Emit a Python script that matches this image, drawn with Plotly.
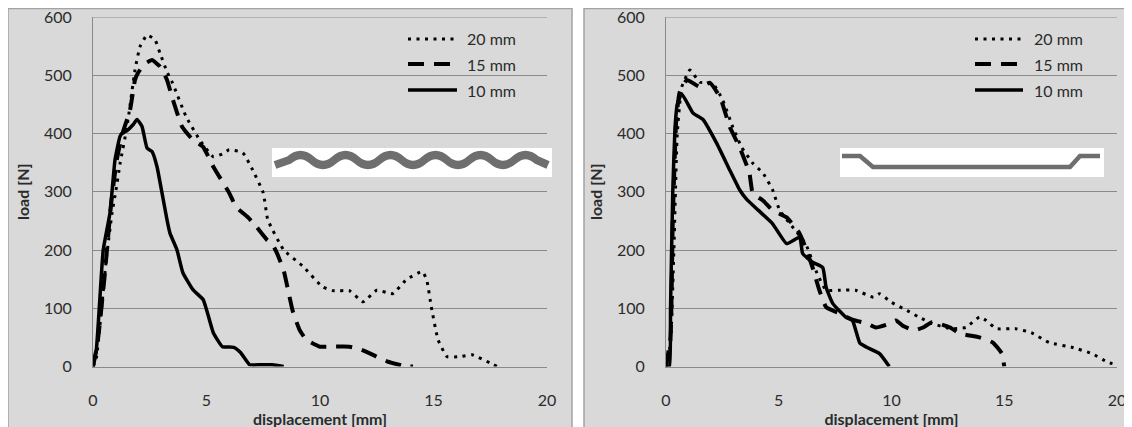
import plotly.graph_objects as go

W, H = 1132, 427
OFF = 8  # the page body adds an 8px margin; place everything relative to it

# ---------------- data ----------------
x_ticks = [0, 5, 10, 15, 20]
y_ticks = [0, 100, 200, 300, 400, 500, 600]
series_names = ["20 mm", "15 mm", "10 mm"]

# left chart (wavy profile)
L20_x = [0, 0.15, 0.3, 0.6, 0.84, 1.0, 1.2, 1.5, 1.85, 2.07, 2.38, 2.73, 2.95, 3.26, 3.5, 4.1, 4.7, 5.3, 5.7, 6.0,
         6.6, 7.0, 7.5, 7.7, 8.4, 9.25, 10.1, 10.6, 11.3, 11.9, 12.5, 13.2, 13.8, 14.5, 14.7, 14.9, 15.2, 15.6, 16.2,
         16.7, 17.5, 17.8]
L20_y = [0, 15, 68, 189, 264, 300, 350, 412, 509, 549, 569, 561, 538, 506, 487, 429, 389, 360, 365, 372,
         367, 340, 298, 252, 200, 172, 137, 130, 130, 111, 131, 125, 149, 163, 149, 103, 46, 17, 17,
         20, 6, 0]

L15_x = [0, 0.2, 0.5, 0.8, 1.05, 1.3, 1.63, 1.85, 1.98, 2.3, 2.6, 2.95, 3.26, 3.52, 3.92, 4.4, 4.85, 5.3, 6.0, 6.3,
         6.8, 7.05, 7.65, 7.9, 8.1, 8.4, 8.6, 8.8, 9.1, 9.4, 10.0, 10.4, 11.3, 11.8, 12.5, 12.95, 13.8, 14.1]
L15_y = [0, 40, 150, 280, 355, 400, 440, 492, 504, 520, 526, 515, 492, 458, 412, 389, 377, 343, 298, 274,
         257, 247, 218, 210, 195, 165, 130, 95, 63, 46, 34, 34, 34, 29, 17, 9, 0, 0]

L10_x = [0, 0.15, 0.3, 0.45, 0.75, 0.97, 1.19, 1.3, 1.5, 1.76, 1.94, 2.16, 2.38, 2.6, 2.82, 3.04, 3.26, 3.39, 3.7,
         3.96, 4.4, 4.85, 5.0, 5.3, 5.7, 6.2, 6.5, 6.9, 7.4, 7.9, 8.4]
L10_y = [0, 30, 115, 200, 264, 355, 395, 401, 405, 415, 424, 412, 375, 369, 343, 298, 252, 229, 200,
         161, 132, 115, 98, 58, 34, 33, 24, 3, 3, 3, 0]

# right chart (flat profile)
R20_x = [0, 0.2, 0.35, 0.5, 0.7, 1.06, 1.5, 2.08, 2.52, 2.96, 3.36, 3.85, 4.3, 4.73, 5.04, 5.5, 6.2, 6.7, 7.1, 7.7,
         8.4, 9.2, 9.47, 10.0, 10.7, 11.2, 11.8, 12.6, 13.3, 13.9, 14.2, 14.65, 15.5, 16.2, 17.0, 18.0, 18.9, 19.6,
         19.8]
R20_y = [0, 40, 200, 400, 480, 509, 488, 486, 457, 411, 376, 349, 332, 303, 268, 245, 210, 160, 131, 131,
         131, 119, 125, 110, 96, 85, 74, 65, 67, 85, 79, 65, 65, 58, 41, 33, 22, 7,
         5]

R15_x = [0, 0.2, 0.3, 0.45, 0.6, 0.93, 1.5, 1.95, 2.4, 2.83, 3.27, 3.7, 3.85, 4.3, 4.73, 5.35, 5.93, 6.24, 6.5, 6.8,
         7.1, 7.7, 8.3, 8.9, 9.3, 9.8, 10.2, 10.5, 11.0, 11.4, 11.8, 12.6, 13.0, 13.9, 14.5, 14.9, 15.0]
R15_y = [0, 50, 250, 420, 470, 492, 480, 487, 462, 411, 376, 332, 297, 285, 268, 256, 228, 199, 170, 131,
         102, 91, 80, 74, 67, 72, 79, 70, 62, 67, 76, 67, 57, 50, 41, 22, 0]

R10_x = [0, 0.15, 0.2, 0.3, 0.4, 0.5, 0.7, 1.2, 1.64, 2.25, 2.83, 3.27, 3.58, 4.1, 4.73, 5.35, 5.93, 6.06, 6.5,
         6.95, 7.1, 7.4, 8.0, 8.27, 8.6, 8.9, 9.47, 9.9]
R10_y = [0, 0, 100, 300, 410, 450, 468, 435, 424, 383, 337, 303, 287, 268, 245, 211, 222, 194, 179,
         170, 136, 108, 84, 79, 40, 33, 22, 0]

x_title = "displacement [mm]"
y_title = "load [N]"

# ---------------- styling ----------------
FONT = "Lato"
BG = "#d9d9d9"
GRID = "#8a8a8a"
BORDER = "#a3a3a3"
TXT = "#2b2b2b"
STYLES = {
    "20 mm": dict(color="black", width=3, dash="3px,5.5px"),
    "15 mm": dict(color="black", width=4, dash="16px,10px"),
    "10 mm": dict(color="black", width=3.5),
}


def px(x):
    return (x - OFF) / W


def py(y):
    return 1 - (y - OFF) / H


fig = go.Figure()

panels = [
    ("x", "y", [(L20_x, L20_y), (L15_x, L15_y), (L10_x, L10_y)]),
    ("x2", "y2", [(R20_x, R20_y), (R15_x, R15_y), (R10_x, R10_y)]),
]
for xa, ya, data in panels:
    for name, (xs, ys) in zip(series_names, data):
        fig.add_trace(go.Scatter(
            x=xs, y=ys, mode="lines", name=name, xaxis=xa, yaxis=ya,
            line=dict(shape="spline", smoothing=0.4, **STYLES[name]),
            showlegend=False, hoverinfo="x+y+name",
        ))

ydom = [py(366.5), py(17)]
axis_common = dict(
    showgrid=True, gridcolor=GRID, gridwidth=1,
    showline=True, linecolor=GRID, linewidth=1,
    zeroline=False, ticks="", automargin=False, ticklabeloverflow="allow",
    tickfont=dict(family=FONT, size=16, color=TXT),
)
x_common = dict(axis_common, range=[0, 20], tickvals=x_ticks, showgrid=False,
                ticklabelstandoff=19,
                title=dict(text=x_title, font=dict(family=FONT, size=16, color=TXT, weight="bold"), standoff=0))
y_common = dict(axis_common, range=[0, 600], tickvals=y_ticks, ticklabelstandoff=17,
                title=dict(text=y_title, font=dict(family=FONT, size=16, color=TXT, weight="bold"), standoff=10))

fig.update_layout(
    width=W, height=H,
    margin=dict(l=0, r=0, t=0, b=0, autoexpand=False),
    paper_bgcolor="white", plot_bgcolor=BG,
    showlegend=False,
    xaxis=dict(x_common, domain=[px(93), px(547)], anchor="y"),
    yaxis=dict(y_common, domain=ydom, anchor="x"),
    xaxis2=dict(x_common, domain=[px(666), px(1117)], anchor="y2"),
    yaxis2=dict(y_common, domain=ydom, anchor="x2"),
)

shapes = []
annotations = []
# chart frames
for x0, x1 in [(8, 572), (584, 1145)]:
    shapes.append(dict(type="rect", xref="paper", yref="paper", layer="below",
                       x0=px(x0), x1=px(x1), y0=py(440), y1=py(8.5),
                       fillcolor=BG, line=dict(color=BORDER, width=1.5)))

# top gridline at the axis maximum (plotly may skip the grid line on the plot edge)
for xr, yr in [("x domain", "y"), ("x2 domain", "y2")]:
    shapes.append(dict(type="line", xref=xr, yref=yr, layer="below",
                       x0=0, x1=1, y0=y_ticks[-1], y1=y_ticks[-1],
                       line=dict(color=GRID, width=1)))

# legends
rows = [39, 64, 90]
for lx0, lx1, tx in [(408, 457, 465), (975, 1023, 1032)]:
    for name, ry in zip(series_names, rows):
        st = STYLES[name]
        shapes.append(dict(type="line", xref="paper", yref="paper", layer="above",
                           x0=px(lx0), x1=px(lx1), y0=py(ry), y1=py(ry),
                           line=dict(color="black", width=st["width"], dash=st.get("dash", "solid"))))
        annotations.append(dict(xref="paper", yref="paper", x=px(tx), y=py(ry), text=name,
                                showarrow=False, xanchor="left", yanchor="middle",
                                font=dict(family=FONT, size=16, color=TXT)))

# inset: wavy profile
shapes.append(dict(type="rect", xref="paper", yref="paper", layer="above",
                   x0=px(272), x1=px(552), y0=py(177), y1=py(148),
                   fillcolor="white", line=dict(width=0)))
w_start, period, ymid, amp, w_end = 278.0, 45.0, 160.0, 10.0, 548.0
d = "M %.5f,%.5f" % (px(w_start - 3), py(ymid + amp / 2))
d += " L %.5f,%.5f" % (px(w_start + period / 4), py(ymid))
k = 1
while w_start + k * period / 2 + period / 4 <= w_end:
    cx = w_start + k * period / 2
    cy = ymid - amp if k % 2 == 1 else ymid + amp
    d += " Q %.5f,%.5f %.5f,%.5f" % (px(cx), py(cy), px(cx + period / 4), py(ymid))
    k += 1
last_y = ymid - amp / 2 if k % 2 == 1 else ymid + amp / 2
d += " L %.5f,%.5f" % (px(w_start + k * period / 2), py(last_y))
shapes.append(dict(type="path", xref="paper", yref="paper", layer="above", path=d,
                   line=dict(color="#6e6e6e", width=8)))

# inset: flat profile
shapes.append(dict(type="rect", xref="paper", yref="paper", layer="above",
                   x0=px(840), x1=px(1104), y0=py(177), y1=py(148),
                   fillcolor="white", line=dict(width=0)))
pts = [(842, 156), (860, 156), (873, 167), (1070, 167), (1080, 156), (1100, 156)]
d2 = "M " + " L ".join("%.5f,%.5f" % (px(a), py(b)) for a, b in pts)
shapes.append(dict(type="path", xref="paper", yref="paper", layer="above", path=d2,
                   line=dict(color="#6e6e6e", width=4.5)))

fig.update_layout(shapes=shapes, annotations=annotations)
fig.write_html("out.html")
